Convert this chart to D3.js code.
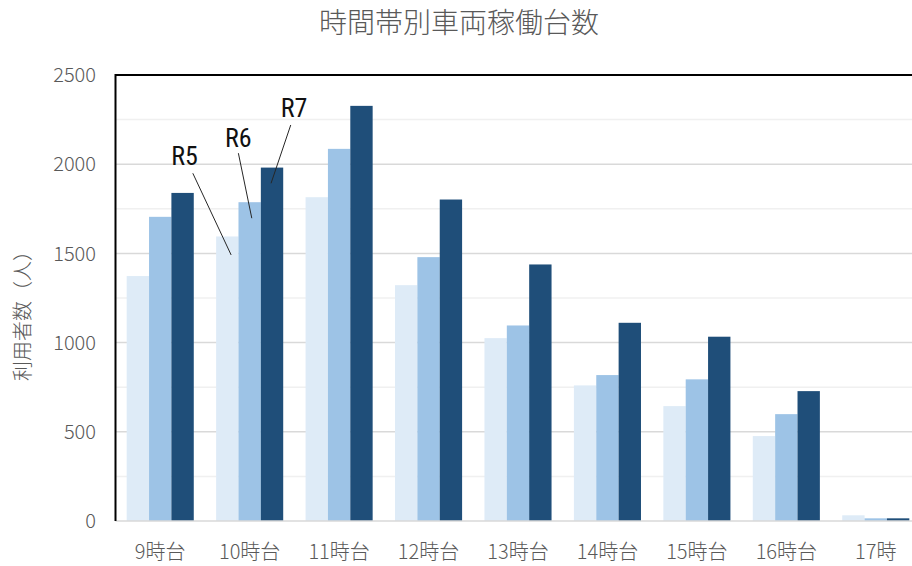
<!DOCTYPE html>
<html>
<head>
<meta charset="utf-8">
<script src="https://cdn.jsdelivr.net/npm/d3@7"></script>
<style>
  body { margin: 0; background: #fff; }
  text { font-family: "Noto Sans CJK JP", "Noto Sans", sans-serif; font-weight: 300; fill: #595959; }
</style>
</head>
<body>
<div id="chart"></div>
<script>
// Data
const categories = ["9時台", "10時台", "11時台", "12時台", "13時台", "14時台", "15時台", "16時台", "17時"];
const seriesNames = ["R5", "R6", "R7"];
const r5 = [1373, 1595, 1815, 1322, 1025, 760, 644, 476, 32];
const r6 = [1705, 1787, 2086, 1479, 1096, 818, 794, 599, 15];
const r7 = [1839, 1981, 2327, 1802, 1438, 1111, 1033, 728, 15];
const yTicks = [0, 500, 1000, 1500, 2000, 2500];
const yMinorTicks = [250, 750, 1250, 1750, 2250];

const values = [r5, r6, r7];
const colors = ["#DEEBF7", "#9DC3E6", "#1F4E79"];

// Dimensions
const width = 912;
const height = 566;
const margin = { top: 75, right: -8.5, bottom: 45, left: 115.5 };

const svg = d3.select("#chart")
    .append("svg")
    .attr("width", width)
    .attr("height", height);

// Scales
const x = d3.scaleBand()
    .domain(categories)
    .range([margin.left, width - margin.right])
    .paddingInner(0.25)
    .paddingOuter(0.125);

const xs = d3.scaleBand()
    .domain(seriesNames)
    .range([0, x.bandwidth()]);

const y = d3.scaleLinear()
    .domain([0, 2500])
    .range([height - margin.bottom, margin.top]);

// Gridlines
svg.append("g")
    .selectAll("line")
    .data(yMinorTicks)
    .join("line")
    .attr("x1", margin.left)
    .attr("x2", width)
    .attr("y1", d => y(d))
    .attr("y2", d => y(d))
    .attr("stroke", "#f0f0f0")
    .attr("stroke-width", 1.5);

svg.append("g")
    .selectAll("line")
    .data(yTicks.slice(1))
    .join("line")
    .attr("x1", margin.left)
    .attr("x2", width)
    .attr("y1", d => y(d))
    .attr("y2", d => y(d))
    .attr("stroke", "#d9d9d9")
    .attr("stroke-width", 1.5);

// Bars
const rows = categories.map((c, i) => ({
    cat: c,
    bars: seriesNames.map((s, j) => ({ s, j, v: values[j][i] }))
}));

svg.append("g")
    .selectAll("g")
    .data(rows)
    .join("g")
    .attr("transform", d => `translate(${x(d.cat)},0)`)
    .selectAll("rect")
    .data(d => d.bars)
    .join("rect")
    .attr("x", d => xs(d.s))
    .attr("y", d => y(d.v))
    .attr("width", xs.bandwidth())
    .attr("height", d => y(0) - y(d.v))
    .attr("fill", d => colors[d.j]);

// Axis line (bottom) and plot border (left, top)
svg.append("line")
    .attr("x1", margin.left).attr("x2", width)
    .attr("y1", y(0)).attr("y2", y(0))
    .attr("stroke", "#d9d9d9")
    .attr("stroke-width", 1.5);

svg.append("path")
    .attr("d", `M${margin.left},${y(0)}V${y(2500)}H${width}`)
    .attr("fill", "none")
    .attr("stroke", "#000")
    .attr("stroke-width", 2);

// Tick labels
svg.append("g")
    .selectAll("text")
    .data(yTicks)
    .join("text")
    .attr("x", 96)
    .attr("y", d => y(d))
    .attr("dy", "0.36em")
    .attr("text-anchor", "end")
    .style("font-size", "20px")
    .text(d => d);

svg.append("g")
    .selectAll("text")
    .data(categories)
    .join("text")
    .attr("x", d => x(d) + x.bandwidth() / 2)
    .attr("y", 559)
    .attr("text-anchor", "middle")
    .style("font-size", "20px")
    .text(d => d);

// Titles
svg.append("text")
    .attr("x", 459)
    .attr("y", 33)
    .attr("text-anchor", "middle")
    .style("font-size", "28px")
    .text("時間帯別車両稼働台数");

svg.append("text")
    .attr("transform", "rotate(-90)")
    .attr("x", -311)
    .attr("y", 30)
    .attr("text-anchor", "middle")
    .style("font-size", "20px")
    .text("利用者数（人）");

// Series labels with leader lines, pointing into the 10時台 bars
const notes = [
    { s: "R5", i: 1, dx: 15, dy: 18.5, lx: -46.5, ly: -90, ex: -38.3, ey: -81.7 },
    { s: "R6", i: 1, dx: 13.3, dy: 16, lx: -13.4, ly: -71, ex: -13.4, ey: -65 },
    { s: "R7", i: 1, dx: 10.2, dy: 15.7, lx: 23, ly: -66, ex: 19.7, ey: -58.3 }
];

notes.forEach(n => {
    const j = seriesNames.indexOf(n.s);
    const px = x(categories[n.i]) + xs(n.s) + n.dx;
    const py = y(values[j][n.i]) + n.dy;
    svg.append("line")
        .attr("x1", px).attr("y1", py)
        .attr("x2", px + n.ex).attr("y2", py + n.ey)
        .attr("stroke", "#262626")
        .attr("stroke-width", 1);
    svg.append("text")
        .attr("x", px + n.lx)
        .attr("y", py + n.ly)
        .attr("text-anchor", "middle")
        .style("font-family", "'Liberation Sans Narrow', 'Roboto Condensed', 'DejaVu Sans Condensed', sans-serif")
        .style("font-weight", "400")
        .style("font-size", "26px")
        .style("fill", "#111")
        .text(n.s);
});
</script>
</body>
</html>
